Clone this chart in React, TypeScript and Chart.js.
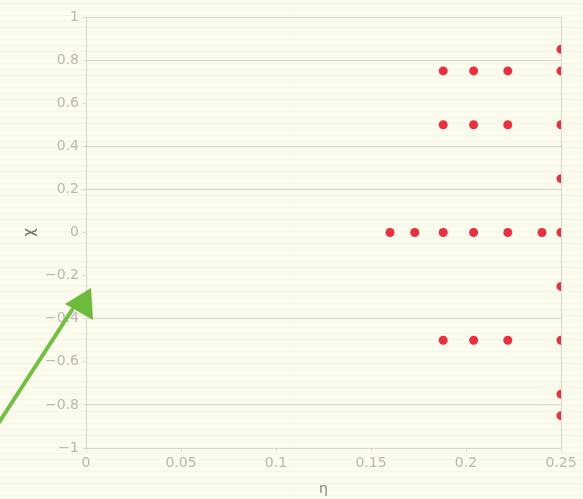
import React, { useEffect, useRef } from "react";
import { Chart, registerables } from "chart.js";

Chart.register(...registerables);

// Points grouped by rows of chi (y), values of eta (x)
const etaRowTop = [0.25];
const chiRowTop = [0.85];
const etaRow075 = [0.188, 0.204, 0.222, 0.25];
const chiRow075 = [0.75, 0.75, 0.75, 0.75];
const etaRow05 = [0.188, 0.204, 0.222, 0.25];
const chiRow05 = [0.5, 0.5, 0.5, 0.5];
const etaRow025 = [0.25];
const chiRow025 = [0.25];
const etaRow0 = [0.16, 0.173, 0.188, 0.204, 0.222, 0.24, 0.25];
const chiRow0 = [0, 0, 0, 0, 0, 0, 0];
const etaRowM025 = [0.25];
const chiRowM025 = [-0.25];
const etaRowM05 = [0.188, 0.204, 0.222, 0.25];
const chiRowM05 = [-0.5, -0.5, -0.5, -0.5];
const etaRowM075 = [0.25, 0.25];
const chiRowM075 = [-0.75, -0.85];

const xTicks = [0, 0.05, 0.1, 0.15, 0.2, 0.25];
const yTicks = [-1, -0.8, -0.6, -0.4, -0.2, 0, 0.2, 0.4, 0.6, 0.8, 1];
const yGridShown = [-1, -0.8, -0.4, 0.2, 0.4, 0.8, 1];
const xGridShown = [0, 0.25];

const xLabel = "η";
const yLabel = "χ";

function zip(xs: number[], ys: number[]) {
  return xs.map((x, i) => ({ x, y: ys[i] }));
}

const allPoints = [
  ...zip(etaRowTop, chiRowTop),
  ...zip(etaRow075, chiRow075),
  ...zip(etaRow05, chiRow05),
  ...zip(etaRow025, chiRow025),
  ...zip(etaRow0, chiRow0),
  ...zip(etaRowM025, chiRowM025),
  ...zip(etaRowM05, chiRowM05),
  ...zip(etaRowM075, chiRowM075),
];

function fmt(v: number, digits: number) {
  const r = Math.round(v * Math.pow(10, digits)) / Math.pow(10, digits);
  const s = String(Math.abs(r));
  return r < 0 ? "\u2212" + s : s;
}

const paperPlugin = {
  id: "paper",
  beforeDraw(chart: any) {
    const ctx = chart.ctx;
    const w = chart.width;
    const h = chart.height;
    ctx.save();
    ctx.fillStyle = "#fbfbee";
    ctx.fillRect(0, 0, w, h);
    ctx.strokeStyle = "rgba(228,226,200,0.18)";
    ctx.lineWidth = 1;
    for (let y = 3.5; y < h; y += 6) {
      ctx.beginPath();
      ctx.moveTo(0, y);
      ctx.lineTo(w, y);
      ctx.stroke();
    }
    ctx.restore();
  },
};

const arrowPlugin = {
  id: "arrow",
  afterDraw(chart: any) {
    const ctx = chart.ctx;
    ctx.save();
    ctx.strokeStyle = "#72c043";
    ctx.fillStyle = "#6dbb3c";
    ctx.lineWidth = 4;
    ctx.lineCap = "round";
    ctx.beginPath();
    ctx.moveTo(-2, 424);
    ctx.lineTo(72, 310);
    ctx.stroke();
    ctx.beginPath();
    ctx.moveTo(91, 288);
    ctx.lineTo(65, 304);
    ctx.lineTo(93, 320);
    ctx.closePath();
    ctx.fill();
    ctx.restore();
  },
};

export default function App() {
  const ref = useRef<HTMLCanvasElement | null>(null);
  useEffect(() => {
    document.body.style.margin = "0";
    const canvas = ref.current;
    if (!canvas) return;
    const tickColor = "#bdb6af";
    const gridOn = "rgba(200,193,182,0.65)";
    const chart = new Chart(canvas, {
      type: "scatter",
      data: {
        datasets: [
          {
            data: allPoints,
            backgroundColor: "#e8303e",
            borderColor: "#e8303e",
            pointRadius: 4.5,
            pointHoverRadius: 4.5,
            borderWidth: 0,
          },
        ],
      },
      options: {
        animation: false,
        responsive: false,
        devicePixelRatio: 1,
        layout: { padding: { left: 0, right: 22, top: 17, bottom: 0 } },
        plugins: { legend: { display: false }, tooltip: { enabled: false } },
        scales: {
          x: {
            type: "linear",
            min: 0,
            max: 0.25,
            afterFit(scale: any) {
              scale.height = 51;
            },
            afterBuildTicks(scale: any) {
              scale.ticks = xTicks.map((v) => ({ value: v }));
            },
            ticks: {
              color: tickColor,
              font: { family: "DejaVu Sans", size: 14 },
              padding: 3,
              maxRotation: 0,
              callback: (v: any) => fmt(Number(v), 2),
            },
            grid: {
              color: (c: any) =>
                c.tick && xGridShown.some((g) => Math.abs(g - c.tick.value) < 1e-6)
                  ? gridOn
                  : "rgba(0,0,0,0)",
              tickColor: "rgba(200,193,182,0.5)",
              tickLength: 4,
            },
            border: { display: false },
            title: {
              display: true,
              text: xLabel,
              color: "#8a8580",
              font: { family: "DejaVu Sans", size: 14 },
              padding: { top: 0, bottom: 1 },
            },
          },
          y: {
            type: "linear",
            min: -1,
            max: 1,
            afterFit(scale: any) {
              scale.width = 86;
            },
            afterBuildTicks(scale: any) {
              scale.ticks = yTicks.map((v) => ({ value: v }));
            },
            ticks: {
              color: tickColor,
              font: { family: "DejaVu Sans", size: 14 },
              padding: 3,
              callback: (v: any) => fmt(Number(v), 1),
            },
            grid: {
              color: (c: any) =>
                c.tick && yGridShown.some((g) => Math.abs(g - c.tick.value) < 1e-6)
                  ? gridOn
                  : "rgba(0,0,0,0)",
              tickColor: "rgba(200,193,182,0.5)",
              tickLength: 4,
            },
            border: { display: false },
            title: {
              display: true,
              text: yLabel,
              color: "#6f6a66",
              font: { family: "DejaVu Sans", size: 15 },
              padding: { top: 21, bottom: 0 },
            },
          },
        },
      },
      plugins: [paperPlugin, arrowPlugin],
    } as any);
    return () => chart.destroy();
  }, []);
  return <canvas ref={ref} width={583} height={499} style={{ display: "block" }} />;
}
